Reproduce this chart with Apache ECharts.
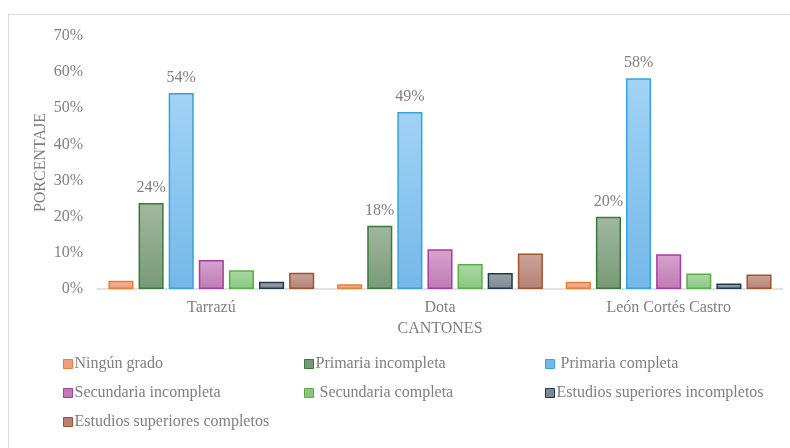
<!DOCTYPE html>
<html>
<head>
<meta charset="utf-8">
<script src="https://cdn.jsdelivr.net/npm/echarts@6/dist/echarts.min.js"></script>
<style>
html,body{margin:0;padding:0;background:#fff;}
#c{width:790px;height:448px;}
</style>
</head>
<body>
<div id="c"></div>
<script>
const categories = ['Tarrazú', 'Dota', 'León Cortés Castro'];
const seriesNames = ['Ningún grado', 'Primaria incompleta', 'Primaria completa',
  'Secundaria incompleta', 'Secundaria completa', 'Estudios superiores incompletos',
  'Estudios superiores completos'];
const ningunGrado = [2.3, 1.3, 2.0];
const primariaIncompleta = [23.8, 17.5, 20.0];
const primariaCompleta = [54.2, 49.0, 58.3];
const secundariaIncompleta = [8.0, 11.0, 9.6];
const secundariaCompleta = [5.2, 6.9, 4.3];
const superioresIncompletos = [2.0, 4.4, 1.5];
const superioresCompletos = [4.5, 9.8, 4.0];
const yTicks = [0, 10, 20, 30, 40, 50, 60, 70];

const values = [ningunGrado, primariaIncompleta, primariaCompleta, secundariaIncompleta,
  secundariaCompleta, superioresIncompletos, superioresCompletos];
const labelled = [false, true, true, false, false, false, false];
const leadingSpace = [false, false, true, false, true, false, false];

const fills = [
  ['#f6b49b', '#f09c7e', '#ed7d31'],
  ['#a1b8a0', '#789a76', '#3b7a3b'],
  ['#a2d3f6', '#74b8e8', '#34a4dc'],
  ['#d5a3cd', '#c07ab5', '#a63e9f'],
  ['#acd9a4', '#89c780', '#5aae46'],
  ['#9aa3ab', '#7c8892', '#203a52'],
  ['#cba59b', '#b68174', '#a3522c']
];

const font = 'Liberation Serif, Times New Roman, serif';
const grey = '#7f7f7f';

const series = seriesNames.map((n, i) => ({
  name: n,
  type: 'bar',
  data: values[i],
  barGap: '20%',
  barCategoryGap: '10%',
  itemStyle: {
    color: new echarts.graphic.LinearGradient(0, 0, 0, 1, [
      {offset: 0, color: fills[i][0]}, {offset: 1, color: fills[i][1]}
    ]),
    borderColor: fills[i][2],
    borderWidth: 1.5
  },
  label: {
    show: labelled[i],
    position: 'top',
    distance: 7,
    color: grey,
    fontFamily: font,
    fontSize: 16,
    formatter: p => Math.round(p.value) + '%'
  }
}));

const colX = [63, 304, 545];
const rowY = [356, 385, 414];
const legends = seriesNames.map((n, i) => ({
  data: [{name: n, icon: 'rect', itemStyle: {color: fills[i][1], borderColor: fills[i][2], borderWidth: 1}}],
  left: colX[i % 3],
  top: rowY[Math.floor(i / 3)],
  itemWidth: 9,
  itemHeight: 9,
  selectedMode: false,
  padding: 0,
  formatter: name => (leadingSpace[i] ? ' ' : '') + name,
  textStyle: {color: grey, fontFamily: font, fontSize: 16, padding: [0, 0, 0, -3]}
}));

const chart = echarts.init(document.getElementById('c'), null, {renderer: 'canvas'});
chart.setOption({
  animation: false,
  backgroundColor: '#fff',
  graphic: [{
    type: 'rect', shape: {x: 8.5, y: 14.5, width: 900, height: 600},
    style: {fill: 'none', stroke: '#d9d9d9', lineWidth: 1}, silent: true, z: -1
  }],
  legend: legends,
  grid: {left: 97, right: 7, top: 36, bottom: 159, containLabel: false},
  xAxis: {
    type: 'category',
    data: categories,
    name: 'CANTONES',
    nameLocation: 'middle',
    nameGap: 31,
    nameTextStyle: {color: grey, fontFamily: font, fontSize: 16},
    axisLine: {lineStyle: {color: '#d9d9d9', width: 1.5}},
    axisTick: {show: false},
    axisLabel: {color: grey, fontFamily: font, fontSize: 16, margin: 11}
  },
  yAxis: {
    type: 'value',
    min: yTicks[0],
    max: yTicks[yTicks.length - 1],
    interval: 10,
    name: 'PORCENTAJE',
    nameLocation: 'middle',
    nameGap: 48,
    nameMoveOverlap: false,
    nameRotate: 90,
    nameTextStyle: {color: grey, fontFamily: font, fontSize: 16},
    axisLine: {show: false},
    axisTick: {show: false},
    splitLine: {show: false},
    axisLabel: {color: grey, fontFamily: font, fontSize: 16, margin: 14, formatter: '{value}%'}
  },
  series: series
});
</script>
</body>
</html>
